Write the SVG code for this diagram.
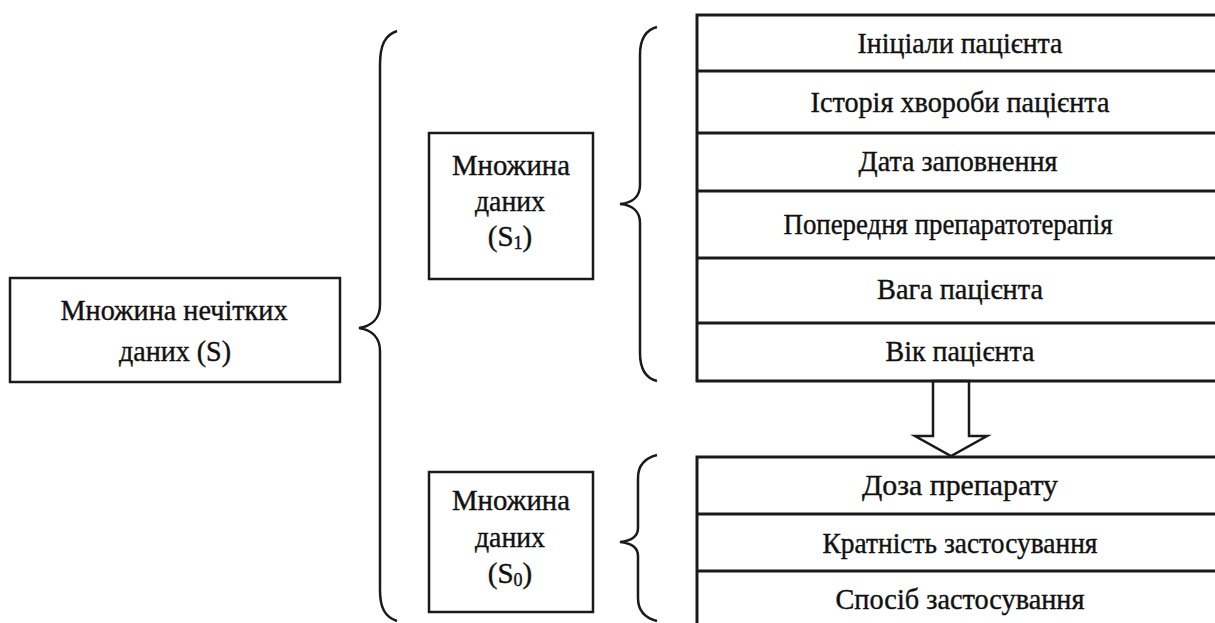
<svg xmlns="http://www.w3.org/2000/svg" width="1215" height="623" viewBox="0 0 1215 623">
<style>
.box{fill:#fff;stroke:#1a1a1a;stroke-width:2.5}
.tbl{fill:none;stroke:#1a1a1a;stroke-width:3}
.br{fill:none;stroke:#1a1a1a;stroke-width:2.5}
text{font-family:"Liberation Serif","Times New Roman",serif;font-size:29px;fill:#111;stroke:#111;stroke-width:0.4;text-anchor:middle}
.sub{font-size:18px}
</style>
<rect width="1215" height="623" fill="#fff"/>
<g id="braces">
<path class="br" d="M397,31 C385,35 380,45 380,65 L380,305 C380,318 372,326 359,328 C372,330 380,338 380,351 L380,590 C380,608 385,617 397,621"/>
<path class="br" d="M657,27 C645,30 640,40 640,55 L640,185 C640,197 632,203 620,204 C632,205 640,211 640,223 L640,353 C640,368 645,378 657,381"/>
<path class="br" d="M657,455 C645,458 638,466 638,478 L638,528 C638,537 630,541 620,542 C630,543 638,547 638,556 L638,598 C638,610 645,618 657,621"/>
</g>
<g id="connectors">
<polygon points="933,381 969,381 969,436 987,436 951,456 915,436 933,436" fill="#fff" stroke="#1a1a1a" stroke-width="2.5" stroke-linejoin="miter"/>
</g>
<g id="node-s">
<rect class="box" x="10" y="278" width="330" height="104"/>
<text x="174" y="320" textLength="227" lengthAdjust="spacingAndGlyphs">Множина нечітких</text>
<text x="175" y="361" textLength="112" lengthAdjust="spacingAndGlyphs">даних (S)</text>
</g>
<g id="node-s1">
<rect class="box" x="429" y="133" width="164" height="146"/>
<text x="511" y="175" textLength="118" lengthAdjust="spacingAndGlyphs">Множина</text>
<text x="510" y="211" textLength="70" lengthAdjust="spacingAndGlyphs">даних</text>
<text x="510" y="246">(S<tspan class="sub" dy="3">1</tspan><tspan dy="-3">)</tspan></text>
</g>
<g id="node-s0">
<rect class="box" x="429" y="472" width="164" height="140"/>
<text x="511" y="510" textLength="118" lengthAdjust="spacingAndGlyphs">Множина</text>
<text x="510" y="547" textLength="70" lengthAdjust="spacingAndGlyphs">даних</text>
<text x="510" y="583">(S<tspan class="sub" dy="3">0</tspan><tspan dy="-3">)</tspan></text>
</g>
<g id="table-inputs">
<path class="tbl" d="M1220,15 L697,15 L697,381 L1220,381 M697,71 L1220,71 M697,133 L1220,133 M697,191 L1220,191 M697,258 L1220,258 M697,323 L1220,323"/>
<text x="960" y="53" textLength="205" lengthAdjust="spacingAndGlyphs">Ініціали пацієнта</text>
<text x="960" y="112" textLength="299" lengthAdjust="spacingAndGlyphs">Історія хвороби пацієнта</text>
<text x="958" y="171" textLength="199" lengthAdjust="spacingAndGlyphs">Дата заповнення</text>
<text x="948" y="234" textLength="329" lengthAdjust="spacingAndGlyphs">Попередня препаратотерапія</text>
<text x="960" y="299" textLength="166" lengthAdjust="spacingAndGlyphs">Вага пацієнта</text>
<text x="960" y="361" textLength="149" lengthAdjust="spacingAndGlyphs">Вік пацієнта</text>
</g>
<g id="table-outputs">
<path class="tbl" d="M1220,457 L697,457 L697,630 M697,514 L1220,514 M697,571 L1220,571"/>
<text x="960" y="495" textLength="196" lengthAdjust="spacingAndGlyphs">Доза препарату</text>
<text x="960" y="553" textLength="275" lengthAdjust="spacingAndGlyphs">Кратність застосування</text>
<text x="960" y="609" textLength="249" lengthAdjust="spacingAndGlyphs">Спосіб застосування</text>
</g>
</svg>
